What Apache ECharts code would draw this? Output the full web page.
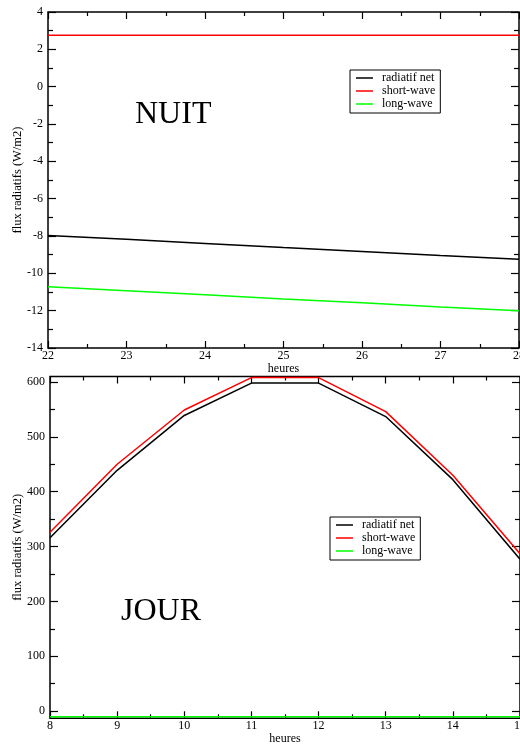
<!DOCTYPE html>
<html>
<head>
<meta charset="utf-8">
<script src="https://cdn.jsdelivr.net/npm/echarts@6/dist/echarts.min.js"></script>
<style>
html,body{margin:0;padding:0;background:#fff;}
#c{width:520px;height:744px;}
</style>
</head>
<body>
<div id="c"></div>
<script>
// ---- data ----
const seriesNames = ['radiatif net', 'short-wave', 'long-wave'];
const nightHours = [22, 23, 24, 25, 26, 27, 28];
const nightNet = [-7.97, -8.18, -8.4, -8.62, -8.83, -9.05, -9.25];
const nightSW  = [2.75, 2.75, 2.75, 2.75, 2.75, 2.75, 2.75];
const nightLW  = [-10.72, -10.93, -11.15, -11.37, -11.58, -11.8, -12.0];
const dayHours = [8, 9, 10, 11, 12, 13, 14, 15];
const dayNet = [316, 439, 539, 598, 598, 537, 422, 277];
const daySW  = [326, 450, 549, 608, 608, 546, 430, 287];
const dayLW  = [-10, -10, -10, -10, -10, -10, -10, -10];
const dayYTicks = [0, 100, 200, 300, 400, 500, 600];
const dayYMinor = [50, 150, 250, 350, 450, 550];
const colors = ['#000000', '#ff0000', '#00ff00'];

const FONT = 'Liberation Serif';
const chart = echarts.init(document.getElementById('c'));

function pairs(xs, ys) { return xs.map((x, i) => [x, ys[i]]); }

const tickStyle = { color: '#000', width: 1.2 };
const baseLabel = { color: '#000', fontFamily: FONT, fontSize: 12 };
const nameStyle = { color: '#000', fontFamily: FONT, fontSize: 12.5 };

function xAx(grid, min, max, pos, show) {
  return {
    type: 'value', gridIndex: grid, min: min, max: max, interval: 1, position: pos,
    axisLine: { show: false, onZero: false },
    axisTick: { show: true, inside: true, length: 7, lineStyle: tickStyle },
    minorTick: { show: true, splitNumber: 2, length: 4, lineStyle: tickStyle },
    axisLabel: Object.assign({ show: show, margin: 2, hideOverlap: false }, baseLabel),
    splitLine: { show: false },
    name: show ? 'heures' : '', nameLocation: 'middle', nameGap: show ? 15 : 0,
    nameMoveOverlap: false,
    nameTextStyle: { color: '#000', fontFamily: FONT, fontSize: 12 }
  };
}

const legendIcon = 'path://M0,0H17V1.5H0Z M21,0H21.01V0.01H21Z';
function legend(left, top) {
  return {
    left: left, top: top, orient: 'vertical',
    data: seriesNames,
    icon: legendIcon, itemWidth: 21, itemHeight: 1.5, itemGap: 1,
    borderColor: '#000', borderWidth: 1, padding: [2, 5, 3, 6],
    backgroundColor: '#fff', selectedMode: false,
    textStyle: { color: '#000', fontFamily: FONT, fontSize: 12, lineHeight: 12 }
  };
}

const option = {
  backgroundColor: '#fff',
  animation: false,
  color: colors,
  grid: [
    { left: 48, top: 12, width: 471, height: 336, show: true, borderColor: '#000', borderWidth: 1.5, outerBoundsMode: 'none', containLabel: false },
    { left: 50, top: 376.5, width: 470, height: 341.8, show: true, borderColor: '#000', borderWidth: 1.5, outerBoundsMode: 'none', containLabel: false }
  ],
  legend: [legend(350, 70), legend(330, 517)],
  xAxis: [
    xAx(0, 22, 28, 'bottom', true),
    xAx(0, 22, 28, 'top', false),
    xAx(1, 8, 15, 'bottom', true),
    xAx(1, 8, 15, 'top', false)
  ],
  yAxis: [
    { type: 'value', gridIndex: 0, min: -14, max: 4, interval: 2, position: 'left',
      axisLine: { show: false, onZero: false },
      axisTick: { inside: true, length: 8, lineStyle: tickStyle },
      minorTick: { show: true, splitNumber: 2, length: 5, lineStyle: tickStyle },
      axisLabel: Object.assign({ margin: 5 }, baseLabel),
      splitLine: { show: false },
      name: 'flux radiatifs (W/m2)', nameLocation: 'middle', nameGap: 24, nameMoveOverlap: false,
      nameTextStyle: nameStyle },
    { type: 'value', gridIndex: 0, min: -14, max: 4, interval: 2, position: 'right',
      axisLine: { show: false, onZero: false },
      axisTick: { inside: true, length: 8, lineStyle: tickStyle },
      minorTick: { show: true, splitNumber: 2, length: 5, lineStyle: tickStyle },
      axisLabel: { show: false }, splitLine: { show: false } },
    { type: 'value', gridIndex: 1, min: -13, max: 610, position: 'left',
      axisLine: { show: false, onZero: false },
      axisTick: { inside: true, length: 8, lineStyle: tickStyle, customValues: dayYTicks },
      axisLabel: Object.assign({ margin: 5, customValues: dayYTicks }, baseLabel),
      splitLine: { show: false },
      name: 'flux radiatifs (W/m2)', nameLocation: 'middle', nameGap: 26, nameMoveOverlap: false,
      nameTextStyle: nameStyle },
    { type: 'value', gridIndex: 1, min: -13, max: 610, position: 'left',
      axisLine: { show: false, onZero: false },
      axisTick: { inside: true, length: 5, lineStyle: tickStyle, customValues: dayYMinor },
      axisLabel: { show: false, customValues: dayYMinor }, splitLine: { show: false } },
    { type: 'value', gridIndex: 1, min: -13, max: 610, position: 'right',
      axisLine: { show: false, onZero: false },
      axisTick: { inside: true, length: 8, lineStyle: tickStyle, customValues: dayYTicks },
      axisLabel: { show: false, customValues: dayYTicks }, splitLine: { show: false } },
    { type: 'value', gridIndex: 1, min: -13, max: 610, position: 'right',
      axisLine: { show: false, onZero: false },
      axisTick: { inside: true, length: 5, lineStyle: tickStyle, customValues: dayYMinor },
      axisLabel: { show: false, customValues: dayYMinor }, splitLine: { show: false } }
  ],
  series: [
    { name: seriesNames[0], type: 'line', xAxisIndex: 0, yAxisIndex: 0, data: pairs(nightHours, nightNet), showSymbol: false, lineStyle: { width: 1.5, color: colors[0] }, itemStyle: { color: colors[0] }, z: 3 },
    { name: seriesNames[1], type: 'line', xAxisIndex: 0, yAxisIndex: 0, data: pairs(nightHours, nightSW), showSymbol: false, lineStyle: { width: 1.5, color: colors[1] }, itemStyle: { color: colors[1] }, z: 3 },
    { name: seriesNames[2], type: 'line', xAxisIndex: 0, yAxisIndex: 0, data: pairs(nightHours, nightLW), showSymbol: false, lineStyle: { width: 1.5, color: colors[2] }, itemStyle: { color: colors[2] }, z: 3 },
    { name: seriesNames[0], type: 'line', xAxisIndex: 2, yAxisIndex: 2, data: pairs(dayHours, dayNet), showSymbol: false, lineStyle: { width: 1.5, color: colors[0] }, itemStyle: { color: colors[0] }, z: 3 },
    { name: seriesNames[1], type: 'line', xAxisIndex: 2, yAxisIndex: 2, data: pairs(dayHours, daySW), showSymbol: false, lineStyle: { width: 1.5, color: colors[1] }, itemStyle: { color: colors[1] }, z: 3 },
    { name: seriesNames[2], type: 'line', xAxisIndex: 2, yAxisIndex: 2, data: pairs(dayHours, dayLW), showSymbol: false, lineStyle: { width: 1.5, color: colors[2] }, itemStyle: { color: colors[2] }, z: 3 }
  ],
  graphic: [
    { type: 'text', left: 135, top: 99, style: { text: 'NUIT', font: '32px "Liberation Serif"', fill: '#000' } },
    { type: 'text', left: 121, top: 596, style: { text: 'JOUR', font: '32px "Liberation Serif"', fill: '#000' } }
  ]
};
chart.setOption(option);
</script>
</body>
</html>
